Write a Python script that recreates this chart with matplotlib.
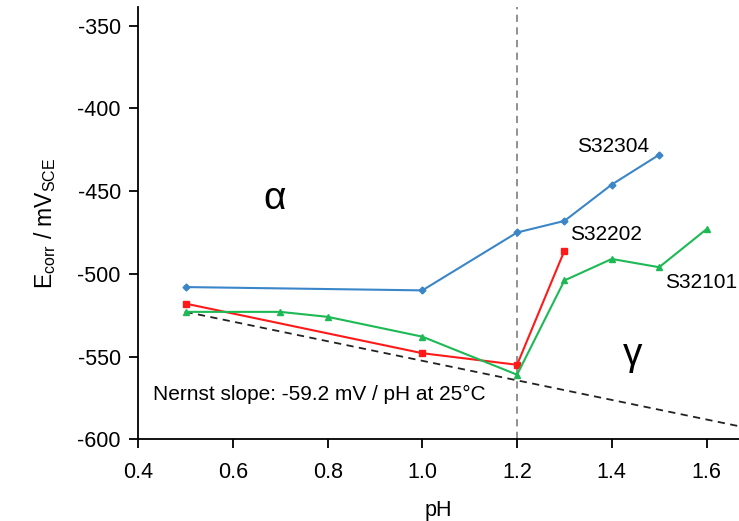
import matplotlib
matplotlib.use("Agg")
import matplotlib.pyplot as plt

plt.rcParams['font.family'] = ['Liberation Sans', 'DejaVu Sans']
plt.rcParams['axes.unicode_minus'] = False

# data
ph_s32304 = [0.5, 1.0, 1.2, 1.3, 1.4, 1.5]
e_s32304 = [-508, -510, -475, -468, -446, -428]

ph_s32202 = [0.5, 1.0, 1.2, 1.3]
e_s32202 = [-518, -548, -555, -486]

ph_s32101 = [0.5, 0.7, 0.8, 1.0, 1.2, 1.3, 1.4, 1.5, 1.6]
e_s32101 = [-523, -523, -526, -538, -561, -504, -491, -496, -473]

ph_nernst = [0.5, 1.7]
e_nernst = [-523, -594]

fig = plt.figure(figsize=(7.39, 5.21), dpi=100)
ax = fig.add_axes([0.187, 0.157, 0.813, 0.830])

ax.axvline(1.2, color='#888888', ls=(0, (4, 3)), lw=1.3, zorder=1)
ax.plot(ph_nernst, e_nernst, color='#222222', ls=(0, (4, 3)), lw=1.3, zorder=2)

ax.plot(ph_s32304, e_s32304, color='#3a86c8', lw=1.5, marker='D', ms=3.5, zorder=3)
ax.plot(ph_s32202, e_s32202, color='#ff1a1a', lw=1.5, marker='s', ms=5, zorder=3)
ax.plot(ph_s32101, e_s32101, color='#1db954', lw=1.5, marker='^', ms=5, zorder=3)

ax.text(1.327, -423, 'S32304', fontsize=15, va='center')
ax.text(1.311, -476.5, 'S32202', fontsize=15, va='center')
ax.text(1.512, -505, 'S32101', fontsize=15, va='center')
ax.text(0.431, -573, 'Nernst slope: -59.2 mV / pH at 25°C', fontsize=15, va='center')
ax.text(0.689, -455, 'α', fontsize=28, ha='center', va='center')
ax.text(1.443, -549, 'γ', fontsize=28, ha='center', va='center')

ax.set_xlim(0.4, 1.6686)
ax.set_ylim(-600, -338.5)
ax.set_xticks([0.4, 0.6, 0.8, 1.0, 1.2, 1.4, 1.6])
ax.set_xticklabels(['0.4', '0.6', '0.8', '1.0', '1.2', '1.4', '1.6'])
ax.set_yticks([-600, -550, -500, -450, -400, -350])

for s in ['top', 'right']:
    ax.spines[s].set_visible(False)
for s in ['left', 'bottom']:
    ax.spines[s].set_linewidth(1.3)
ax.tick_params(direction='out', length=6.5, width=1.3, labelsize=15.5)
ax.tick_params(axis='x', pad=10)
ax.tick_params(axis='y', pad=6)

ax.set_xlabel('pH', fontsize=15.5, labelpad=12)
ax.set_ylabel(r'E$_{\mathregular{corr}}$ / mV$_{\mathregular{SCE}}$', fontsize=16.5, labelpad=14)

fig.savefig('out.png', dpi=100)
